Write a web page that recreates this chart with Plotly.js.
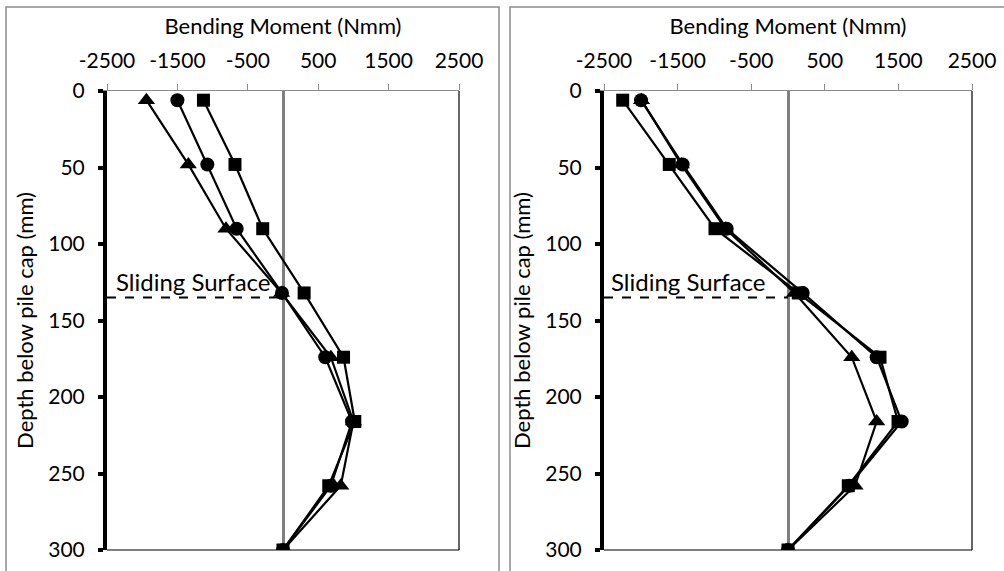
<!DOCTYPE html>
<html>
<head>
<meta charset="utf-8">
<script src="https://cdn.plot.ly/plotly-3.0.1.min.js"></script>
<style>html,body{margin:0;padding:0;background:#fff;}#chart{width:1004px;height:571px;}</style>
</head>
<body>
<div id="chart"></div>
<script>
// Depth below pile cap (mm)
const depth = [6, 48, 90, 132, 174, 216, 258, 300];

// Left chart: bending moment (Nmm)
const leftTriangle = [-1940, -1345, -810, -20, 680, 1000, 820, 0];
const leftCircle   = [-1500, -1075, -658, -15, 600, 980, 680, 0];
const leftSquare   = [-1130, -682, -288, 300, 860, 1020, 650, 0];

// Right chart: bending moment (Nmm)
const rightTriangle = [-1990, -1450, -850, 90, 866, 1205, 910, 0];
const rightCircle   = [-1997, -1431, -833, 200, 1205, 1545, 830, 0];
const rightSquare   = [-2246, -1613, -992, 140, 1250, 1495, 819, 0];

const slidingDepth = 135;
const xTickVals = [-2500, -1500, -500, 500, 1500, 2500];
const yTickVals = [0, 50, 100, 150, 200, 250, 300];

const FONT = 'Lato, "Open Sans", sans-serif';

function series(x, sym, size, xa, ya) {
  return {
    x: x, y: depth, type: 'scatter', mode: 'lines+markers',
    xaxis: xa, yaxis: ya,
    line: {color: '#000', width: 2.2},
    marker: {symbol: sym, size: size, color: '#000', line: {width: 0}},
    showlegend: false, hoverinfo: 'x+y'
  };
}

const data = [
  series(leftTriangle, 'triangle-up', 15, 'x', 'y'),
  series(leftCircle, 'circle', 14, 'x', 'y'),
  series(leftSquare, 'square', 13, 'x', 'y'),
  series(rightTriangle, 'triangle-up', 15, 'x2', 'y2'),
  series(rightCircle, 'circle', 14, 'x2', 'y2'),
  series(rightSquare, 'square', 13, 'x2', 'y2')
];

function xAxis(domain, anchor) {
  return {
    domain: domain, anchor: anchor, side: 'top',
    range: [-2500, 2500], tickvals: xTickVals, ticktext: xTickVals.map(String),
    showgrid: false, zeroline: true, zerolinecolor: '#7f7f7f', zerolinewidth: 3,
    showline: true, linecolor: '#8c8c8c', linewidth: 1,
    ticks: 'outside', ticklen: 6, tickcolor: '#8c8c8c', tickwidth: 1,
    tickfont: {family: FONT, size: 21, color: '#000'},
    ticklabelstandoff: 8,
    title: {text: 'Bending Moment (Nmm)', font: {family: FONT, size: 22, color: '#000'}, standoff: 5},
    fixedrange: true
  };
}
function yAxis(domain, anchor) {
  return {
    domain: domain, anchor: anchor,
    range: [300, 0], tickvals: yTickVals, ticktext: yTickVals.map(String),
    showgrid: false, zeroline: false,
    showline: true, linecolor: '#000', linewidth: 4,
    ticks: 'outside', ticklen: 5, tickcolor: '#000', tickwidth: 4,
    tickfont: {family: FONT, size: 21, color: '#000'},
    ticklabelstandoff: 9,
    title: {text: 'Depth below pile cap (mm)', font: {family: FONT, size: 22, color: '#000'}, standoff: 10},
    fixedrange: true
  };
}

const W = 1004, H = 571;
const px = v => v / W;
const py = v => (H - v) / H;

const yDom = [py(550), py(91)];

const shapes = [
  // outer chart frames
  {type: 'rect', xref: 'paper', yref: 'paper', x0: px(6), x1: px(499), y0: -0.05, y1: py(7), line: {color: '#8c8c8c', width: 1.5}, layer: 'below'},
  {type: 'rect', xref: 'paper', yref: 'paper', x0: px(510), x1: 1.05, y0: -0.05, y1: py(7), line: {color: '#8c8c8c', width: 1.5}, layer: 'below'},
  // plot area right & bottom borders
  {type: 'line', xref: 'x domain', yref: 'y domain', x0: 1, x1: 1, y0: 0, y1: 1, line: {color: '#000', width: 1.2}},
  {type: 'line', xref: 'x domain', yref: 'y domain', x0: 0, x1: 1, y0: 0, y1: 0, line: {color: '#000', width: 1.2}},
  {type: 'line', xref: 'x2 domain', yref: 'y2 domain', x0: 1, x1: 1, y0: 0, y1: 1, line: {color: '#000', width: 1.2}},
  {type: 'line', xref: 'x2 domain', yref: 'y2 domain', x0: 0, x1: 1, y0: 0, y1: 0, line: {color: '#000', width: 1.2}},
  // sliding surface dashed lines
  {type: 'line', xref: 'x', yref: 'y', x0: -2500, x1: 0, y0: slidingDepth, y1: slidingDepth, line: {color: '#000', width: 2, dash: 'dash'}},
  {type: 'line', xref: 'x2', yref: 'y2', x0: -2500, x1: 0, y0: slidingDepth, y1: slidingDepth, line: {color: '#000', width: 2, dash: 'dash'}}
];

const annotations = [
  {xref: 'x', yref: 'y', x: -2500, y: slidingDepth, xanchor: 'left', yanchor: 'bottom', xshift: 7, yshift: 0,
   text: 'Sliding Surface', showarrow: false, font: {family: FONT, size: 24, color: '#000'}},
  {xref: 'x2', yref: 'y2', x: -2500, y: slidingDepth, xanchor: 'left', yanchor: 'bottom', xshift: 5, yshift: 0,
   text: 'Sliding Surface', showarrow: false, font: {family: FONT, size: 24, color: '#000'}}
];

const layout = {
  width: W, height: H,
  margin: {l: 0, r: 0, t: 0, b: 0},
  paper_bgcolor: '#fff', plot_bgcolor: '#fff',
  showlegend: false,
  xaxis: xAxis([px(107), px(459)], 'y'),
  yaxis: yAxis(yDom, 'x'),
  xaxis2: xAxis([px(604), px(972)], 'y2'),
  yaxis2: yAxis(yDom, 'x2'),
  shapes: shapes,
  annotations: annotations,
  font: {family: FONT}
};

Plotly.newPlot('chart', data, layout, {displayModeBar: false, staticPlot: true});
</script>
</body>
</html>
